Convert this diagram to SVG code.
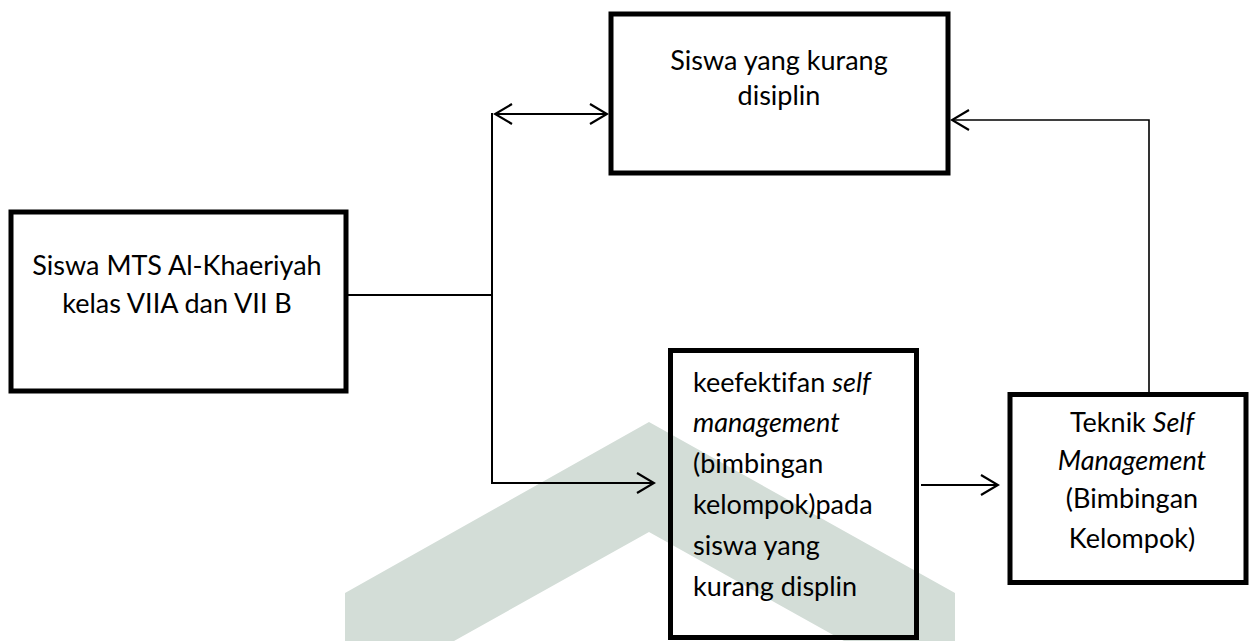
<svg xmlns="http://www.w3.org/2000/svg" width="1250" height="641" viewBox="0 0 1250 641">
<defs>
<style>
.box{fill:none;stroke:#000;stroke-width:5}
.t{font-family:Lato,"Noto Sans",sans-serif;font-size:27px;fill:#000;font-variant-ligatures:none;font-feature-settings:"liga" 0,"clig" 0}
.c{text-anchor:middle}
.i{font-style:italic}
.ln{fill:none;stroke:#000;stroke-width:2}
</style>
<marker id="ah" viewBox="-20 -12 22 24" refX="0" refY="0" markerWidth="22" markerHeight="24" markerUnits="userSpaceOnUse" orient="auto-start-reverse">
<path d="M-17,-10 L0,0 L-17,10" fill="none" stroke="#000" stroke-width="2.2"/>
</marker>
</defs>
<rect width="1250" height="641" fill="#fff"/>
<polygon id="watermark" points="345,641 345,593 649,422 955,593 955,641 844,641 649,532 454,641" fill="#d3ddd7"/>
<g id="connectors">
<polyline class="ln" points="348,295 492,295"/>
<polyline class="ln" points="492,113 492,483 654,483" marker-end="url(#ah)"/>
<line class="ln" x1="495" y1="114" x2="607" y2="114" marker-start="url(#ah)" marker-end="url(#ah)"/>
<line class="ln" x1="921" y1="485" x2="998" y2="485" marker-end="url(#ah)"/>
<polyline class="ln" points="1149,392 1149,120 952,120" marker-end="url(#ah)" style="stroke-width:1.6"/>
</g>
<g id="node-siswa-mts">
<rect class="box" x="11" y="212" width="335" height="179"/>
<text class="t c" x="177" y="275">Siswa MTS Al-Khaeriyah</text>
<text class="t c" x="177" y="313">kelas VIIA dan VII B</text>
</g>
<g id="node-kurang-disiplin">
<rect class="box" x="611" y="14" width="337" height="159"/>
<text class="t c" x="779" y="70">Siswa yang kurang</text>
<text class="t c" x="779" y="105">disiplin</text>
</g>
<g id="node-keefektifan">
<rect class="box" x="670.5" y="350.5" width="246" height="287"/>
<text class="t" x="693" y="392">keefektifan <tspan class="i">self</tspan></text>
<text class="t i" x="693" y="432">management</text>
<text class="t" x="693" y="473">(bimbingan</text>
<text class="t" x="693" y="514">kelompok)pada</text>
<text class="t" x="693" y="555">siswa yang</text>
<text class="t" x="693" y="596">kurang displin</text>
</g>
<g id="node-teknik">
<rect class="box" x="1010" y="394.5" width="236" height="188"/>
<text class="t c" x="1132" y="432">Teknik <tspan class="i">Self</tspan></text>
<text class="t c i" x="1132" y="470">Management</text>
<text class="t c" x="1132" y="508">(Bimbingan</text>
<text class="t c" x="1132" y="548">Kelompok)</text>
</g>
</svg>
